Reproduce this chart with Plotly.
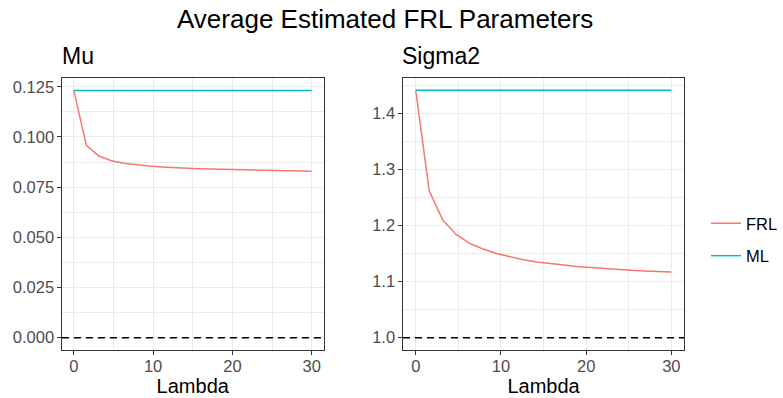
import plotly.graph_objects as go

lambdas = [0.0, 1.579, 3.158, 4.737, 6.316, 7.895, 9.474, 11.053, 12.632, 14.211,
           15.789, 17.368, 18.947, 20.526, 22.105, 23.684, 25.263, 26.842, 28.421, 30.0]
mu_frl = [0.1232, 0.0958, 0.0905, 0.0882, 0.0869, 0.0861, 0.0855, 0.0851, 0.0847, 0.0845,
          0.0842, 0.0840, 0.0839, 0.0837, 0.0836, 0.0835, 0.0834, 0.0833, 0.0832, 0.0829]
mu_ml = [0.1232] * 20
sigma2_frl = [1.441, 1.262, 1.210, 1.184, 1.168, 1.158, 1.150, 1.144, 1.139, 1.135,
              1.132, 1.129, 1.127, 1.125, 1.123, 1.122, 1.120, 1.119, 1.118, 1.117]
sigma2_ml = [1.441] * 20
mu_true = 0.0
sigma2_true = 1.0
mu_ticks = [0.0, 0.025, 0.05, 0.075, 0.1, 0.125]
sigma2_ticks = [1.0, 1.1, 1.2, 1.3, 1.4]
x_ticks = [0, 10, 20, 30]

FRL_COL = "#F8766D"
ML_COL = "#00BFC4"
W, H = 783, 398
FONT = "Liberation Sans, Arial, sans-serif"

fig = go.Figure()
fig.add_trace(go.Scatter(x=lambdas, y=mu_frl, mode="lines", name="FRL",
                         line=dict(color=FRL_COL, width=1.5), xaxis="x", yaxis="y",
                         legendgroup="FRL"))
fig.add_trace(go.Scatter(x=lambdas, y=mu_ml, mode="lines", name="ML",
                         line=dict(color=ML_COL, width=1.5), xaxis="x", yaxis="y",
                         legendgroup="ML"))
fig.add_trace(go.Scatter(x=lambdas, y=sigma2_frl, mode="lines", name="FRL",
                         line=dict(color=FRL_COL, width=1.5), xaxis="x2", yaxis="y2",
                         legendgroup="FRL", showlegend=False))
fig.add_trace(go.Scatter(x=lambdas, y=sigma2_ml, mode="lines", name="ML",
                         line=dict(color=ML_COL, width=1.5), xaxis="x2", yaxis="y2",
                         legendgroup="ML", showlegend=False))

grid = "#EBEBEB"
border = "#333333"
tickfont = dict(family=FONT, size=16.5, color="#4D4D4D")

def xaxis(domain, anchor):
    return dict(domain=domain, anchor=anchor, range=[-1.5, 31.5], tickvals=x_ticks,
                showgrid=True, gridcolor=grid, gridwidth=1.1,
                minor=dict(dtick=5, tick0=0, showgrid=True, gridcolor=grid, gridwidth=0.6, ticks=""),
                showline=True, linecolor=border, linewidth=1.1, mirror=True,
                ticks="outside", ticklen=3.5, tickcolor=border, tickwidth=1.1,
                ticklabelstandoff=-2,
                tickfont=tickfont, zeroline=False, automargin=False,
                title=dict(text="Lambda", font=dict(family=FONT, size=20, color="black"), standoff=0))

def yaxis(domain, anchor, rng, ticks, fmt, minor):
    return dict(domain=domain, anchor=anchor, range=rng, tickvals=ticks, tickformat=fmt,
                showgrid=True, gridcolor=grid, gridwidth=1.1,
                minor=dict(dtick=minor, tick0=ticks[0], showgrid=True, gridcolor=grid, gridwidth=0.6, ticks=""),
                showline=True, linecolor=border, linewidth=1.1, mirror=True,
                ticks="outside", ticklen=3.5, tickcolor=border, tickwidth=1.1,
                tickfont=tickfont, zeroline=False, automargin=False)

ydom = [1 - 350 / H, 1 - 78 / H]
fig.update_layout(
    width=W, height=H, margin=dict(l=0, r=0, t=0, b=0),
    paper_bgcolor="white", plot_bgcolor="white",
    font=dict(family=FONT),
    xaxis=xaxis([62 / W, 324 / W], "y"),
    yaxis=yaxis(ydom, "x", [-0.00616, 0.1294], mu_ticks, ".3f", 0.0125),
    xaxis2=xaxis([403.5 / W, 685 / W], "y2"),
    yaxis2=yaxis(ydom, "x2", [0.978, 1.463], sigma2_ticks, ".1f", 0.05),
    showlegend=True,
    legend=dict(x=707 / W, y=1 - 206 / H, xanchor="left", yanchor="top",
                font=dict(family=FONT, size=16.5, color="black"),
                tracegroupgap=8, bgcolor="rgba(0,0,0,0)"),
)

fig.add_shape(type="line", xref="x domain", yref="y", x0=0, x1=1, y0=mu_true, y1=mu_true,
              line=dict(color="black", width=1.5, dash="7px,5px"))
fig.add_shape(type="line", xref="x2 domain", yref="y2", x0=0, x1=1, y0=sigma2_true, y1=sigma2_true,
              line=dict(color="black", width=1.5, dash="7px,5px"))

fig.add_annotation(text="Average Estimated FRL Parameters", xref="paper", yref="paper",
                   x=385 / W, y=1 - 19 / H, xanchor="center", yanchor="middle", showarrow=False,
                   font=dict(family=FONT, size=26, color="black"))
fig.add_annotation(text="Mu", xref="paper", yref="paper",
                   x=60 / W, y=1 - 56 / H, xanchor="left", yanchor="middle", showarrow=False,
                   font=dict(family=FONT, size=23, color="black"))
fig.add_annotation(text="Sigma2", xref="paper", yref="paper",
                   x=401 / W, y=1 - 56 / H, xanchor="left", yanchor="middle", showarrow=False,
                   font=dict(family=FONT, size=23, color="black"))

fig.write_html("out.html", config={"displayModeBar": False},
               post_script="document.body.style.margin='0px';")
